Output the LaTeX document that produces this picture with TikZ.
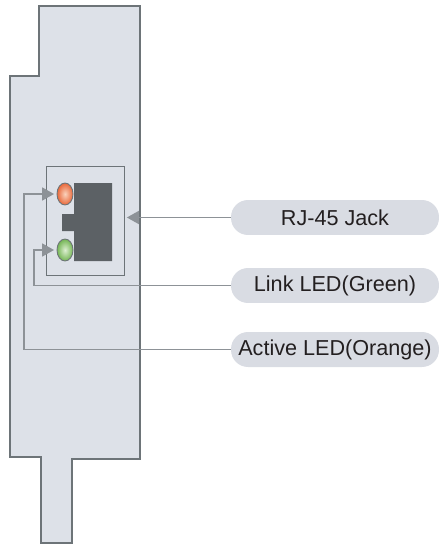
\documentclass[tikz,border=0pt]{standalone}
\usepackage{fontspec}
\setmainfont{Liberation Sans}
\usetikzlibrary{arrows.meta,shapes.geometric}
\definecolor{ink}{HTML}{231F20}
\definecolor{plate}{HTML}{DDE1E8}
\definecolor{plateline}{HTML}{6D7478}
\definecolor{pill}{HTML}{D9DCE3}
\definecolor{wire}{HTML}{8D9297}
\definecolor{socket}{HTML}{5C6165}
\definecolor{orangeglow}{HTML}{F9D2BC}
\definecolor{orangerim}{HTML}{E9683A}
\definecolor{greenglow}{HTML}{DDEFD2}
\definecolor{greenrim}{HTML}{74B554}
\newcommand{\labelsize}{\fontsize{12.3}{14}\selectfont}
\tikzset{
 every node/.append style={font=\labelsize,text=ink,align=center},
 platepath/.style={draw=plateline,fill=plate,line width=1pt},
 jackframe/.style={draw=plateline,line width=.45pt,minimum width=1.56cm,minimum height=2.18cm,inner sep=0pt},
 tag/.style={fill=pill,rounded corners=.34cm,minimum width=4.16cm,minimum height=.7cm,inner sep=0pt},
 led/.style={ellipse,draw=plateline,line width=.5pt,minimum width=.32cm,minimum height=.44cm,inner sep=0pt},
 callout/.style={-{Triangle[length=.24cm,width=.26cm]},draw=wire,line width=1pt,shorten >=.05cm},
}

\begin{document}
\begin{tikzpicture}[x=.02cm,y=-.02cm]

\useasboundingbox (0,0) rectangle (439,544);
\draw[platepath] (39,6) -- (140,6) -- (140,459) -- (72,459) -- (72,543) -- (41,543) -- (41,457) -- (10,457) -- (10,76) -- (39,76) -- cycle;

\node[jackframe] (jackbox) at (85,220.5) {};
\fill[socket] (74,183) -- (112,183) -- (112,261) -- (74,261) -- (74,231) -- (62,231) -- (62,214) -- (74,214) -- cycle;
\node[led,inner color=orangeglow,outer color=orangerim] (orangeled) at (65,194) {};
\node[led,inner color=greenglow,outer color=greenrim] (greenled) at (65,250) {};

\node[tag] (jacktag) at (335,217.5) {RJ-45 Jack};
\node[tag] (linktag) at (335,285.5) {Link LED(Green)};
\node[tag] (activetag) at (335,349.5) {Active LED(Orange)};

\coordinate (linkbend) at (34,285.5);
\coordinate (activebend) at (24,349.5);
\draw[callout] (jacktag.west) -- (jackbox.east |- jacktag.west);
\draw[callout] (linktag.west) -- (linkbend) |- (greenled.west);
\draw[callout] (activetag.west) -- (activebend) |- (orangeled.west);

\end{tikzpicture}
\end{document}
